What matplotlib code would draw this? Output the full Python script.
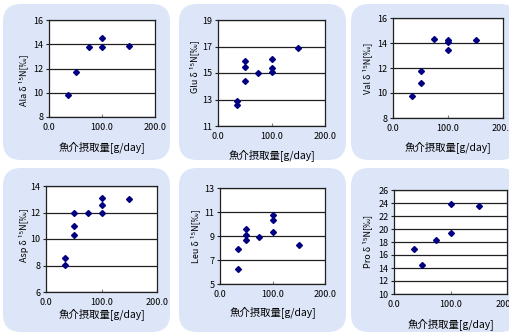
import matplotlib
matplotlib.use("Agg")
import matplotlib.pyplot as plt
from matplotlib.patches import FancyBboxPatch

plt.rcParams['font.family'] = ['Noto Sans CJK JP', 'DejaVu Sans']

# Fish/shellfish intake [g/day] versus amino-acid δ15N
ala_x = [35, 50, 75, 100, 100, 150]
ala_y = [9.85, 11.75, 13.8, 14.5, 13.75, 13.85]

glu_x = [35, 35, 50, 50, 50, 75, 100, 100, 100, 150]
glu_y = [12.6, 12.9, 15.9, 15.45, 14.4, 14.97, 16.08, 15.35, 15.07, 16.9]

val_x = [35, 50, 50, 75, 100, 100, 100, 150]
val_y = [9.8, 10.8, 11.8, 14.35, 14.25, 14.05, 13.45, 14.25]

asp_x = [35, 35, 50, 50, 50, 75, 100, 100, 100, 150]
asp_y = [8.6, 8.07, 12.0, 10.97, 10.33, 12.0, 13.1, 12.6, 12.0, 13.0]

leu_x = [35, 35, 50, 50, 50, 75, 100, 100, 100, 150]
leu_y = [7.9, 6.25, 9.62, 9.07, 8.7, 8.9, 10.78, 10.3, 9.35, 8.25]

pro_x = [35, 50, 75, 100, 100, 150]
pro_y = [16.9, 14.5, 18.35, 23.85, 19.4, 23.6]

names = ["Ala", "Glu", "Val", "Asp", "Leu", "Pro"]
xs = [ala_x, glu_x, val_x, asp_x, leu_x, pro_x]
ys = [ala_y, glu_y, val_y, asp_y, leu_y, pro_y]
y_limits = [(8, 16), (11, 19), (8, 16), (6, 14), (5, 13), (10, 26)]
y_step = 2
x_ticks = [0, 100, 200]
x_label = "魚介摂取量[g/day]"

W, H = 509, 334
fig = plt.figure(figsize=(W / 100, H / 100), dpi=100)

# rounded panel backgrounds, drawn in pixel units
bg = fig.add_axes([0, 0, 1, 1])
bg.set_xlim(0, W)
bg.set_ylim(H, 0)
bg.axis("off")
panel_x = [3, 179, 351]
panel_y = [(4, 156), (168, 164)]
for r in range(2):
    for c in range(3):
        y0, h = panel_y[r]
        bg.add_patch(FancyBboxPatch((panel_x[c], y0), 167, h,
                                    boxstyle="round,pad=0,rounding_size=18",
                                    facecolor="#dde6f8", edgecolor="none"))

# plot areas in pixels: left, top, right, bottom
boxes = [(49, 20, 155, 117), (218, 20, 325, 126), (393, 18, 503, 118),
         (46, 186, 157, 292), (220, 188, 325, 284), (394, 190, 507, 294)]
ylabel_pos = [(23, 80), (194, 67), (367, 68), (24, 235), (195, 236), (367, 241)]
xlabel_gap = [30, 29, 29, 22, 28, 30]

for i in range(6):
    l, t, rr, b = boxes[i]
    lo, hi = y_limits[i]
    ax = fig.add_axes([l / W, 1 - b / H, (rr - l) / W, (b - t) / H])
    ax.set_facecolor("white")
    ax.set_xlim(0, 200)
    ax.set_ylim(lo, hi)
    ax.set_xticks(x_ticks)
    ax.set_xticklabels([f"{v:.1f}" for v in x_ticks])
    ax.set_yticks(list(range(lo, hi + 1, y_step)))
    ax.grid(axis="y", color="#202020", linewidth=0.9)
    ax.set_axisbelow(True)
    for s in ax.spines.values():
        s.set_color("#202020")
        s.set_linewidth(0.9)
    ax.tick_params(axis="x", direction="in", length=2.5, width=0.8,
                   color="#808080", labelsize=6.5, pad=4)
    ax.tick_params(axis="y", direction="out", length=2, width=0.8,
                   color="#202020", labelsize=6.5, pad=2)
    ax.plot(xs[i], ys[i], linestyle="none", marker="D", markersize=3,
            color="#000080")
    fig.text(((l + rr) / 2) / W, 1 - (b + xlabel_gap[i]) / H, x_label,
             ha="center", va="center", fontsize=7.5)
    px, py = ylabel_pos[i]
    fig.text(px / W, 1 - py / H, f"{names[i]} δ ¹⁵N[‰]", rotation=90,
             ha="center", va="center", fontsize=6.5)

fig.savefig("out.png", dpi=100)
